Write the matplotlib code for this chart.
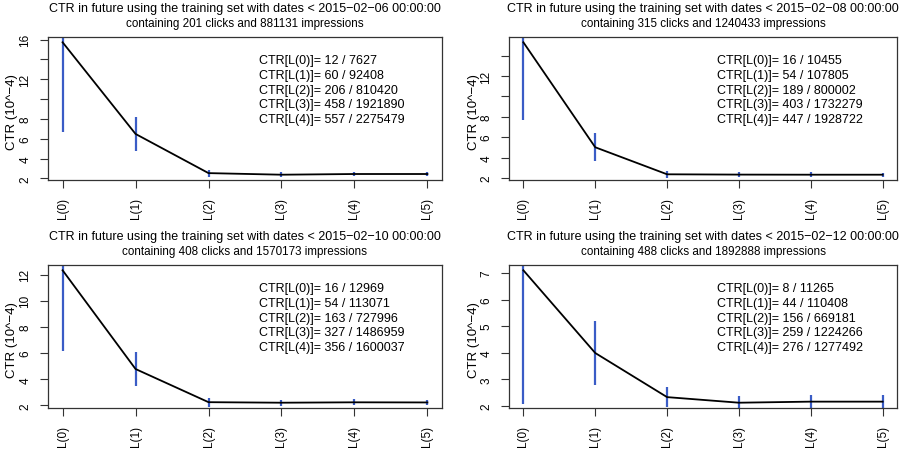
import matplotlib
matplotlib.use("Agg")
import matplotlib.pyplot as plt

plt.rcParams['font.family'] = ['Liberation Sans', 'DejaVu Sans']

levels = ["L(0)", "L(1)", "L(2)", "L(3)", "L(4)", "L(5)"]

dates = ["2015\u221202\u221206 00:00:00", "2015\u221202\u221208 00:00:00",
         "2015\u221202\u221210 00:00:00", "2015\u221202\u221212 00:00:00"]
train_clicks = [201, 315, 408, 488]
train_imps = [881131, 1240433, 1570173, 1892888]

# clicks / impressions shown in the annotation of each panel
clicks = [[12, 60, 206, 458, 557],
          [16, 54, 189, 403, 447],
          [16, 54, 163, 327, 356],
          [8, 44, 156, 259, 276]]
imps = [[7627, 92408, 810420, 1921890, 2275479],
        [10455, 107805, 800002, 1732279, 1928722],
        [12969, 113071, 727996, 1486959, 1600037],
        [11265, 110408, 669181, 1224266, 1277492]]

# CTR (10^-4) per level, with lower / upper ends of the blue bars
ctr = [[15.73, 6.49, 2.54, 2.38, 2.45, 2.45],
       [15.30, 5.01, 2.36, 2.33, 2.32, 2.32],
       [12.34, 4.78, 2.24, 2.20, 2.23, 2.22],
       [7.10, 3.99, 2.33, 2.12, 2.16, 2.16]]
ctr_lo = [[6.65, 4.82, 2.19, 2.16, 2.24, 2.26],
          [7.65, 3.65, 2.02, 2.10, 2.10, 2.11],
          [6.17, 3.48, 1.89, 1.96, 1.99, 2.00],
          [2.08, 2.78, 1.96, 1.85, 1.90, 1.90]]
ctr_hi = [[24.82, 8.17, 2.90, 2.61, 2.66, 2.64],
          [22.95, 6.37, 2.71, 2.56, 2.54, 2.53],
          [18.51, 6.08, 2.59, 2.44, 2.46, 2.44],
          [12.12, 5.19, 2.70, 2.38, 2.42, 2.42]]

yticks = [[2, 4, 6, 8, 10, 12, 14, 16],
          [2, 4, 6, 8, 10, 12, 14],
          [2, 4, 6, 8, 10, 12],
          [2, 3, 4, 5, 6, 7]]
ytick_labels = [["2", "4", "6", "8", "", "12", "", "16"],
                ["2", "4", "6", "8", "", "12", ""],
                ["2", "4", "6", "8", "10", "12"],
                ["2", "3", "4", "5", "6", "7"]]

fig = plt.figure(figsize=(9.05, 4.52), dpi=100)
W, H = 905, 452
boxes = [(48, 38, 442, 181), (509, 38, 897, 181),
         (48, 266, 442, 409), (509, 266, 897, 409)]

blue = "#3a5cc6"
for i in range(4):
    x0, y0, x1, y1 = boxes[i]
    ax = fig.add_axes([x0 / W, 1 - y1 / H, (x1 - x0) / W, (y1 - y0) / H])
    xs = list(range(len(levels)))
    ax.vlines(xs, ctr_lo[i], ctr_hi[i], color=blue, lw=1.6, zorder=2)
    ax.plot(xs, ctr[i], color="black", lw=1.3, zorder=3)
    lo, hi = min(ctr[i]), max(ctr[i])
    pad = 0.04 * (hi - lo)
    ax.set_ylim(lo - pad, hi + pad)
    ax.set_xlim(-0.2, 5.2)
    ax.set_xticks(xs)
    ax.set_xticklabels(levels, rotation=90, fontsize=8.5)
    ax.set_yticks(yticks[i])
    ax.set_yticklabels(ytick_labels[i], rotation=90, va="center", fontsize=8.5)
    ax.tick_params(direction="out", length=6, width=0.8, color="#333333", pad=6)
    for s in ax.spines.values():
        s.set_linewidth(0.9)
        s.set_color("#333333")
    ax.set_ylabel("CTR (10^\u22124)", fontsize=9.5)
    ax.yaxis.set_label_coords(-0.076, 0.48)
    ax.text(0.5, 1.2, "CTR in future using the training set with dates < " + dates[i],
            transform=ax.transAxes, ha="center", va="center", fontsize=9.0)
    ax.text(0.5, 1.095, "containing %d clicks and %d impressions" % (train_clicks[i], train_imps[i]),
            transform=ax.transAxes, ha="center", va="center", fontsize=8.4)
    for k in range(len(clicks[i])):
        ax.text(0.535, 0.839 - k * 0.1035, "CTR[L(%d)]= %d / %d" % (k, clicks[i][k], imps[i][k]),
                transform=ax.transAxes, ha="left", va="center", fontsize=9.0)

fig.savefig("out.png", dpi=100)
